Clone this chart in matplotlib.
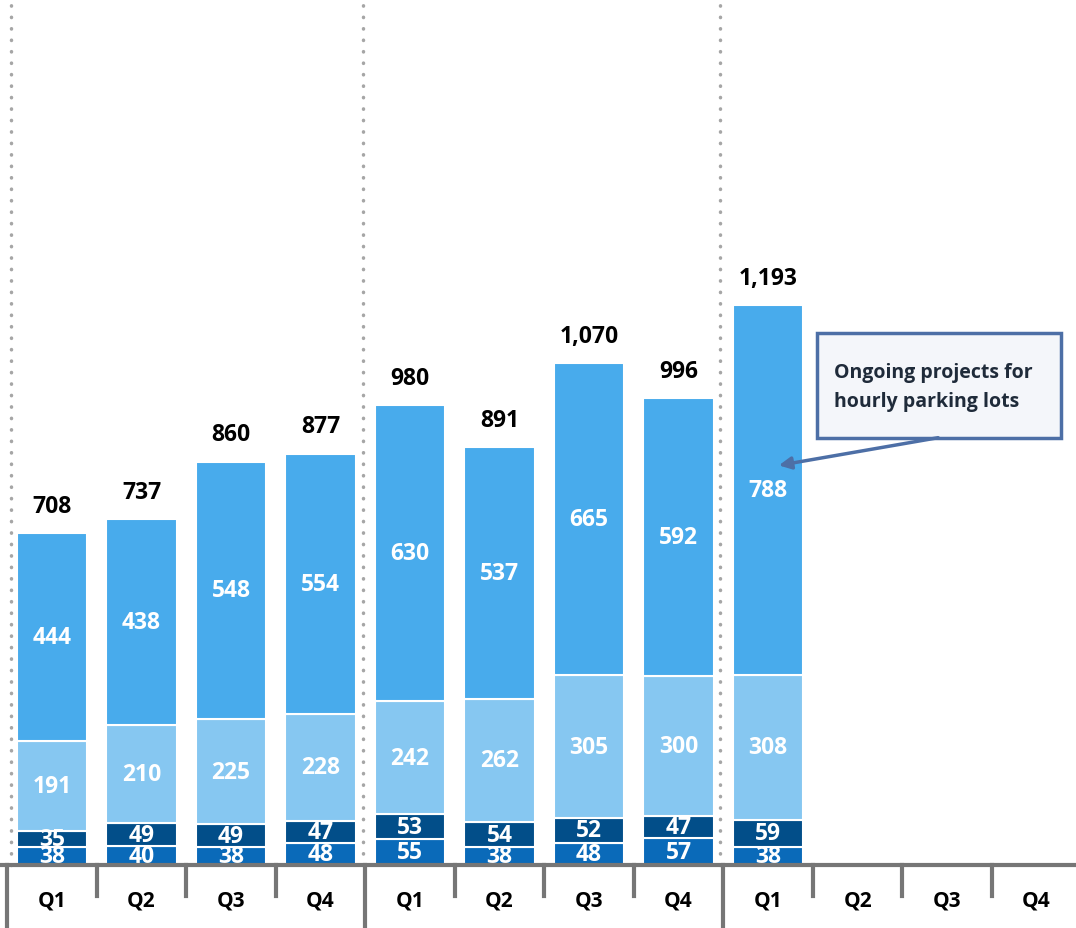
import numpy as np
import matplotlib.pyplot as plt
from matplotlib.patches import Rectangle

plt.rcParams['font.family'] = ['Open Sans', 'DejaVu Sans']

# ------------------------- data ------------------------------------
quarters = ['Q1', 'Q2', 'Q3', 'Q4'] * 3
seg_bottom = [38, 40, 38, 48, 55, 38, 48, 57, 38]
seg_dark = [35, 49, 49, 47, 53, 54, 52, 47, 59]
seg_light = [191, 210, 225, 228, 242, 262, 305, 300, 308]
seg_top = [444, 438, 548, 554, 630, 537, 665, 592, 788]

colors = ['#0A6AB9', '#024E89', '#86C7F1', '#48ABEC']
# -------------------------------------------------------------------

segments = [seg_bottom, seg_dark, seg_light, seg_top]
n = len(seg_top)
x = np.arange(n)

fig = plt.figure(figsize=(10.76, 9.29), dpi=100)
ax = fig.add_axes([0, 0, 1, 1])
ax.set_xlim(-0.581, 11.44)
ax.set_ylim(-134, 1846)
ax.axis('off')

# clip labels at the baseline so the small ones get cut like the bars
clip_rect = Rectangle((-1, 0), 14, 3000, transform=ax.transData)

base = np.zeros(n)
for vals, col in zip(segments, colors):
    vals = np.array(vals)
    ax.bar(x[:n], vals, bottom=base, width=0.79, color=col,
           edgecolor='white', linewidth=1.5, zorder=2)
    for xi, b, v in zip(x, base, vals):
        t = ax.text(xi, b + v / 2, str(v), ha='center', va='center',
                    color='white', fontsize=16.5, fontweight='bold', zorder=3)
        t.set_clip_path(clip_rect)
    base = base + vals

totals = base
for xi, tot in zip(x, totals):
    ax.annotate(f'{int(tot):,}', (xi, tot), xytext=(0, 11),
                textcoords='offset points', ha='center', va='bottom',
                fontsize=16.5, fontweight='bold', color='black')

# x axis line and quarter labels
axis_col = '#767676'
ax.plot([-0.581, 11.44], [0, 0], color=axis_col, lw=3, zorder=4,
        solid_capstyle='butt')
for i in range(13):
    xb = i - 0.5
    if i % 4 == 0:
        ax.plot([xb, xb], [0, -140], color=axis_col, lw=3, zorder=4)
    else:
        ax.plot([xb, xb], [0, -66], color=axis_col, lw=3, zorder=4)
for i, q in enumerate(quarters):
    ax.text(i, -75, q, ha='center', va='center', fontsize=15,
            fontweight='bold', color='black')

# dotted year separators
for xb in [-0.46, 3.475, 7.46]:
    ax.plot([xb, xb], [0, 1846], color='#A6A6A6', lw=2.5,
            linestyle=(0, (0.1, 3.2)), dash_capstyle='round', zorder=1)

# callout box with arrow
box = Rectangle((8.55, 911), 2.72, 224, transform=ax.transData,
                facecolor='#F4F6FA', edgecolor='#4D6FA6', lw=2.5, zorder=5)
ax.add_patch(box)
ax.text(8.74, 1020, 'Ongoing projects for\nhourly parking lots',
        ha='left', va='center', fontsize=14, fontweight='bold',
        color='#1F2B3A', linespacing=1.6, zorder=6)
ax.annotate('', xy=(8.12, 852), xytext=(9.9, 911),
            arrowprops=dict(arrowstyle='-|>', color='#4D6FA6', lw=2.5,
                            mutation_scale=18, shrinkA=0, shrinkB=0),
            zorder=6)

fig.savefig('out.png', dpi=100)
